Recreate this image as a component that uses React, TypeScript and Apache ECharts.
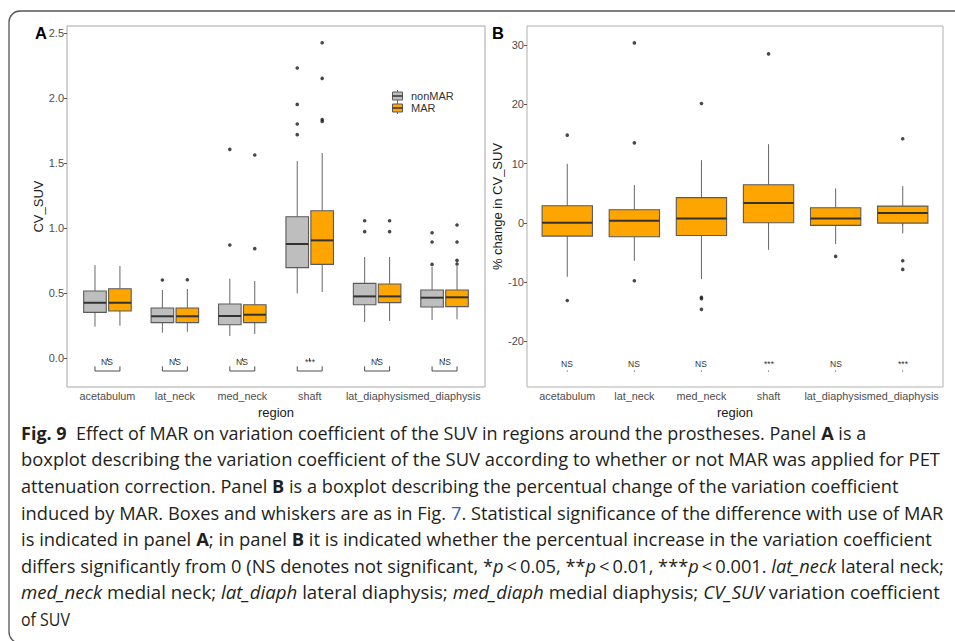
import React, { useEffect, useRef } from "react";
import * as echarts from "echarts";

// ---- data ----
const regions = ["acetabulum", "lat_neck", "med_neck", "shaft", "lat_diaphysis", "med_diaphysis"];

// [lower whisker, Q1, median, Q3, upper whisker]
const cvNonMar = [
  [0.241, 0.351, 0.425, 0.515, 0.715],
  [0.195, 0.272, 0.321, 0.385, 0.523],
  [0.169, 0.256, 0.323, 0.415, 0.61],
  [0.497, 0.695, 0.877, 1.087, 1.515],
  [0.277, 0.41, 0.474, 0.574, 0.777],
  [0.292, 0.392, 0.464, 0.523, 0.7],
];
const cvMar = [
  [0.249, 0.362, 0.425, 0.533, 0.708],
  [0.202, 0.272, 0.321, 0.385, 0.531],
  [0.185, 0.272, 0.333, 0.41, 0.592],
  [0.508, 0.72, 0.905, 1.133, 1.577],
  [0.285, 0.426, 0.474, 0.569, 0.777],
  [0.298, 0.395, 0.467, 0.523, 0.708],
];
const cvNonMarOutliers = [[], [0.6], [0.869, 1.605], [1.718, 1.8, 1.951, 2.231], [0.972, 1.056], [0.72, 0.892, 0.964]];
const cvMarOutliers = [[], [0.602], [0.841, 1.562], [1.82, 1.835, 2.151, 2.425], [0.972, 1.056], [0.723, 0.751, 0.892, 1.023]];

const pctChange = [
  [-9.1, -2.24, 0.0, 2.87, 9.95],
  [-6.41, -2.36, 0.34, 2.19, 6.36],
  [-9.49, -2.13, 0.74, 4.25, 10.57],
  [-4.55, 0.0, 3.32, 6.42, 13.27],
  [-3.59, -0.44, 0.74, 2.53, 5.8],
  [-1.79, -0.05, 1.64, 2.82, 6.19],
];
const pctOutliers = [[-13.1, 14.79], [-9.78, 13.49, 30.35], [-14.6, -12.8, -12.55, 20.13], [28.5], [-5.67], [-7.86, -6.41, 14.17]];

const sigA = ["NS", "NS", "NS", "***", "NS", "NS"];
const sigB = ["NS", "NS", "NS", "***", "NS", "***"];

const ticksA = [0, 0.5, 1, 1.5, 2, 2.5];
const ticksB = [-20, -10, 0, 10, 20, 30];
const catPositions = [1, 2, 3, 4, 5, 6];

const TS = "\u2009";
const captionLines = [
  "{b|Fig. 9}  Effect of MAR on variation coefficient of the SUV in regions around the prostheses. Panel {b|A} is a",
  "boxplot describing the variation coefficient of the SUV according to whether or not MAR was applied for PET",
  "attenuation correction. Panel {b|B} is a boxplot describing the percentual change of the variation coefficient",
  "induced by MAR. Boxes and whiskers are as in Fig. {l|7}. Statistical significance of the difference with use of MAR",
  "is indicated in panel {b|A}; in panel {b|B} it is indicated whether the percentual increase in the variation coefficient",
  `differs significantly from 0 (NS denotes not significant, *{i|p}${TS}<${TS}0.05, **{i|p}${TS}<${TS}0.01, ***{i|p}${TS}<${TS}0.001. {i|lat_neck} lateral neck;`,
  "{i|med_neck} medial neck; {i|lat_diaph} lateral diaphysis; {i|med_diaph} medial diaphysis; {i|CV_SUV} variation coefficient",
  "of SUV",
];
// right edge of each caption line (the text block is left-aligned, ragged right)
const captionRightEdges = [866, 940, 899, 944, 932, 944, 940, 70];

// ---- styling ----
const FONT = "Liberation Sans, Arial, sans-serif";
const CAP_FAMILY = "Open Sans";
const CAP_FONT = "Open Sans, Noto Sans, sans-serif";
const GREY_FILL = "#bebebe";
const ORANGE_FILL = "#ffa500";
const DODGE = 0.185;
const BOX_W_A = 0.335;
const BOX_W_B = 0.75;
const CAP_SIZE = 17.5;
const CAP_LEFT = 21;
const SIG_SIZE = 8.5;

function boxRenderer(fill: string, offset: number, width: number) {
  return (params: any, api: any) => {
    const x = api.value(0) + offset;
    const lo = api.coord([x, api.value(1)]);
    const q1 = api.coord([x, api.value(2)]);
    const med = api.coord([x, api.value(3)]);
    const q3 = api.coord([x, api.value(4)]);
    const hi = api.coord([x, api.value(5)]);
    const half = api.size([width, 0])[0] / 2;
    const cx = lo[0];
    return {
      type: "group",
      children: [
        { type: "line", shape: { x1: cx, y1: hi[1], x2: cx, y2: q3[1] }, style: { stroke: "#666666", lineWidth: 1 } },
        { type: "line", shape: { x1: cx, y1: q1[1], x2: cx, y2: lo[1] }, style: { stroke: "#666666", lineWidth: 1 } },
        {
          type: "rect",
          shape: { x: cx - half, y: q3[1], width: half * 2, height: q1[1] - q3[1] },
          style: { fill, stroke: "#5a5a5a", lineWidth: 1.1 },
        },
        {
          type: "line",
          shape: { x1: cx - half, y1: med[1], x2: cx + half, y2: med[1] },
          style: { stroke: "#333333", lineWidth: 2 },
        },
      ],
    };
  };
}

function boxData(stats: number[][]) {
  return stats.map((s, i) => [catPositions[i], ...s]);
}

function outlierData(groups: number[][], offset: number) {
  const out: number[][] = [];
  groups.forEach((vals, i) => vals.forEach((v) => out.push([catPositions[i] + offset, v])));
  return out;
}

// bracket joining the two dodged boxes of a region (a single tick when there is one box)
function bracketRenderer(halfSpan: number, barY: number, tipY: number) {
  return (params: any, api: any) => {
    const x = api.value(0);
    const left = api.coord([x - halfSpan, barY]);
    const right = api.coord([x + halfSpan, barY]);
    const tip = api.coord([x, tipY]);
    if (halfSpan <= 0) {
      return { type: "line", shape: { x1: left[0], y1: left[1] - 0.5, x2: left[0], y2: left[1] + 0.6 }, style: { stroke: "#4d4d4d", lineWidth: 1 } };
    }
    return {
      type: "polyline",
      shape: { points: [[left[0], tip[1]], [left[0], left[1]], [right[0], right[1]], [right[0], tip[1]]] },
      style: { stroke: "#4d4d4d", lineWidth: 1, fill: null },
    };
  };
}

// significance label above the bracket
function sigTextRenderer(labels: string[], textY: number) {
  return (params: any, api: any) => {
    const p = api.coord([api.value(0), textY]);
    return {
      type: "text",
      x: Math.round(p[0]),
      y: Math.round(p[1]),
      style: {
        text: labels[params.dataIndex],
        fontSize: SIG_SIZE,
        fontFamily: FONT,
        fill: "#333333",
        align: "center",
        verticalAlign: "middle",
      },
    };
  };
}

function valueXAxis(gridIndex: number) {
  return {
    type: "value",
    gridIndex,
    min: 0.4,
    max: 6.6,
    axisLine: { show: false },
    splitLine: { show: false },
    axisTick: { show: true, length: 3, lineStyle: { color: "#555555" }, customValues: catPositions },
    axisLabel: {
      customValues: catPositions,
      formatter: (v: number) => regions[Math.round(v) - 1] ?? "",
      fontSize: 10.8,
      color: "#4d4d4d",
      margin: 3,
      fontFamily: FONT,
      hideOverlap: false,
    },
    name: "region",
    nameLocation: "middle",
    nameGap: 14,
    nameTextStyle: { fontSize: 13, color: "#1a1a1a", fontFamily: FONT },
  };
}

function valueYAxis(gridIndex: number, min: number, max: number, ticks: number[], name: string, gap: number, fmt: (v: number) => string) {
  return {
    type: "value",
    gridIndex,
    min,
    max,
    axisLine: { show: false },
    splitLine: { show: false },
    axisTick: { show: true, length: 3, lineStyle: { color: "#555555" }, customValues: ticks },
    axisLabel: { customValues: ticks, formatter: fmt, fontSize: 11, color: "#4d4d4d", margin: 3, fontFamily: FONT, hideOverlap: false },
    name,
    nameLocation: "middle",
    nameGap: gap,
    nameTextStyle: { fontSize: 13, color: "#1a1a1a", fontFamily: FONT },
  };
}

// width of a caption line (with its bold / italic runs) as laid out by the browser
function measureCaptionLine(line: string): number {
  const host = document.createElement("span");
  host.style.cssText = `position:absolute;left:-9999px;top:0;visibility:hidden;white-space:pre;font-family:"${CAP_FAMILY}";font-size:${CAP_SIZE}px;`;
  const re = /\{(\w)\|([^}]*)\}/g;
  let last = 0;
  let m: RegExpExecArray | null;
  const add = (text: string, kind: string) => {
    const s = document.createElement("span");
    s.textContent = text;
    if (kind === "b") s.style.fontWeight = "bold";
    if (kind === "i") s.style.fontStyle = "italic";
    host.appendChild(s);
  };
  while ((m = re.exec(line))) {
    if (m.index > last) add(line.slice(last, m.index), "");
    add(m[2], m[1]);
    last = m.index + m[0].length;
  }
  if (last < line.length) add(line.slice(last), "");
  document.body.appendChild(host);
  const w = host.getBoundingClientRect().width;
  document.body.removeChild(host);
  return w;
}

function legendItem(y: number, fill: string, label: string) {
  return [
    { type: "line", shape: { x1: 397.5, y1: y - 6, x2: 397.5, y2: y + 6 }, style: { stroke: "#666666", lineWidth: 1 } },
    { type: "rect", shape: { x: 392.5, y: y - 4, width: 10, height: 8 }, style: { fill, stroke: "#5a5a5a", lineWidth: 1 } },
    { type: "line", shape: { x1: 392.5, y1: y, x2: 402.5, y2: y }, style: { stroke: "#333333", lineWidth: 1.5 } },
    { type: "text", x: 411, y, style: { text: label, fontSize: 11, fontFamily: FONT, fill: "#333333", verticalAlign: "middle" } },
  ];
}

export default function App() {
  const ref = useRef<HTMLDivElement>(null);

  useEffect(() => {
    if (!ref.current) return;
    const chart = echarts.init(ref.current, undefined, { renderer: "svg" });

    const caption = captionLines.map((line, i) => {
      const w = measureCaptionLine(line);
      const sx = w > 0 ? (captionRightEdges[i] - CAP_LEFT) / w : 1;
      return {
        type: "text",
        x: CAP_LEFT,
        y: 433 + i * 26.6,
        scaleX: sx,
        style: {
          text: line,
          fontSize: CAP_SIZE,
          fontFamily: CAP_FONT,
          fill: "#231f20",
          verticalAlign: "middle",
          rich: {
            b: { fontWeight: "bold", fontSize: CAP_SIZE, fontFamily: CAP_FONT, fill: "#231f20" },
            i: { fontStyle: "italic", fontSize: CAP_SIZE, fontFamily: CAP_FONT, fill: "#231f20" },
            l: { fontSize: CAP_SIZE, fontFamily: CAP_FONT, fill: "#2f5fd0" },
          },
        },
      };
    });

    const sigPoints = catPositions.map((p) => [p, 0]);

    chart.setOption({
      animation: false,
      backgroundColor: "#ffffff",
      grid: [
        { left: 67, top: 26, width: 418, height: 361, show: true, borderColor: "#a6a6a6", borderWidth: 1, backgroundColor: "#ffffff" },
        { left: 527, top: 26, width: 416, height: 361, show: true, borderColor: "#b0b0b0", borderWidth: 1, backgroundColor: "#ffffff" },
      ],
      xAxis: [valueXAxis(0), valueXAxis(1)],
      yAxis: [
        valueYAxis(0, -0.223, 2.554, ticksA, "CV_SUV", 20, (v) => v.toFixed(1)),
        valueYAxis(1, -27.7, 33.2, ticksB, "% change in CV_SUV", 22, (v) => String(v)),
      ],
      series: [
        {
          type: "custom",
          name: "nonMAR",
          xAxisIndex: 0,
          yAxisIndex: 0,
          renderItem: boxRenderer(GREY_FILL, -DODGE, BOX_W_A),
          encode: { x: 0, y: [1, 2, 3, 4, 5] },
          data: boxData(cvNonMar),
        },
        {
          type: "custom",
          name: "MAR",
          xAxisIndex: 0,
          yAxisIndex: 0,
          renderItem: boxRenderer(ORANGE_FILL, DODGE, BOX_W_A),
          encode: { x: 0, y: [1, 2, 3, 4, 5] },
          data: boxData(cvMar),
        },
        {
          type: "scatter",
          xAxisIndex: 0,
          yAxisIndex: 0,
          symbolSize: 3.6,
          itemStyle: { color: "#1a1a1a" },
          data: [...outlierData(cvNonMarOutliers, -DODGE), ...outlierData(cvMarOutliers, DODGE)],
          z: 5,
        },
        {
          type: "custom",
          xAxisIndex: 0,
          yAxisIndex: 0,
          renderItem: bracketRenderer(DODGE, -0.1, -0.064),
          data: sigPoints,
        },
        {
          type: "custom",
          xAxisIndex: 0,
          yAxisIndex: 0,
          renderItem: sigTextRenderer(sigA, -0.028),
          data: sigPoints,
        },
        {
          type: "custom",
          name: "change",
          xAxisIndex: 1,
          yAxisIndex: 1,
          renderItem: boxRenderer(ORANGE_FILL, 0, BOX_W_B),
          encode: { x: 0, y: [1, 2, 3, 4, 5] },
          data: boxData(pctChange),
        },
        {
          type: "scatter",
          xAxisIndex: 1,
          yAxisIndex: 1,
          symbolSize: 3.6,
          itemStyle: { color: "#1a1a1a" },
          data: outlierData(pctOutliers, 0),
          z: 5,
        },
        {
          type: "custom",
          xAxisIndex: 1,
          yAxisIndex: 1,
          renderItem: bracketRenderer(0, -25.0, -25.0),
          data: sigPoints,
        },
        {
          type: "custom",
          xAxisIndex: 1,
          yAxisIndex: 1,
          renderItem: sigTextRenderer(sigB, -23.9),
          data: sigPoints,
        },
      ],
      graphic: [
        {
          type: "rect",
          shape: { x: 9, y: 11, width: 990, height: 632, r: 11 },
          style: { fill: "none", stroke: "#555555", lineWidth: 1.3 },
          silent: true,
        },
        { type: "text", x: 35, y: 33, style: { text: "A", fontSize: 16.5, fontWeight: "bold", fontFamily: FONT, fill: "#000000", verticalAlign: "middle" } },
        { type: "text", x: 492, y: 33, style: { text: "B", fontSize: 16.5, fontWeight: "bold", fontFamily: FONT, fill: "#000000", verticalAlign: "middle" } },
        ...legendItem(96, GREY_FILL, "nonMAR"),
        ...legendItem(108, ORANGE_FILL, "MAR"),
        ...caption,
      ],
    });

    return () => chart.dispose();
  }, []);

  return <div ref={ref} style={{ position: "fixed", left: 0, top: 0, width: 955, height: 641 }} />;
}
